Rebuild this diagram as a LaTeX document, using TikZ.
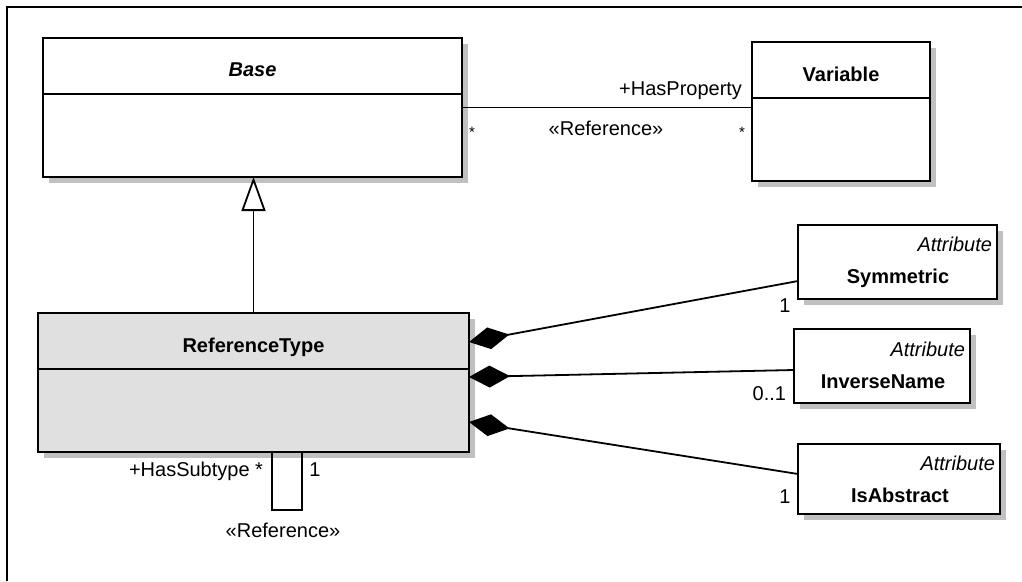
\documentclass[tikz,border=0pt]{standalone}
\usepackage{fontspec}
\setmainfont{Liberation Sans}
\usetikzlibrary{arrows.meta,calc,shadows}
\definecolor{shadowgray}{RGB}{192,192,192}
\definecolor{reffill}{RGB}{224,224,224}
\newcommand\dgfont{\fontsize{20}{24}\selectfont}
\newcommand\dgsmall{\fontsize{15}{18}\selectfont}
\begin{document}
\begin{tikzpicture}[x=1pt,y=-1pt,
  font=\dgfont,
  frame/.style={line width=1.3pt},
  box/.style={draw, line width=2pt, fill=white, inner sep=0pt, outer sep=0pt, anchor=north west,
    drop shadow={shadow xshift=6pt, shadow yshift=-6pt, fill=shadowgray, opacity=1, draw=none}},
  divider/.style={line width=2pt},
  txt/.style={inner sep=0pt, outer sep=0pt, anchor=base},
  title/.style={txt, font=\dgfont\bfseries},
  stereo/.style={inner sep=0pt, outer sep=0pt, anchor=base east, font=\dgfont\itshape},
  conn/.style={line width=1.8pt},
  comp/.style={conn, {Diamond[length=41pt,width=22pt]}-}
]
\useasboundingbox (0,0) rectangle (1022,581);
\draw[frame] (7,581) -- (7,7) -- (1022,7);

% class boxes
\node[box, minimum width=419pt, minimum height=139pt] (base) at (43,38) {};
\node[box, minimum width=178pt, minimum height=139pt] (variable) at (752,42) {};
\node[box, fill=reffill, minimum width=431pt, minimum height=139pt] (reftype) at (38,313) {};
\node[box, minimum width=199pt, minimum height=74pt] (symmetric) at (798,225) {};
\node[box, minimum width=176pt, minimum height=74pt] (inversename) at (794,329) {};
\node[box, minimum width=202pt, minimum height=70pt] (isabstract) at (798,444) {};

\foreach \n in {base,variable,reftype}
  \draw[divider] ($(\n.north west)+(0,56)$) -- ($(\n.north east)+(0,56)$);

% titles
\node[title, font=\dgfont\bfseries\itshape] (base-title) at (252.5,76) {Base};
\node[title] (variable-title) at (841,81) {Variable};
\node[title] (reftype-title) at (253.5,352) {ReferenceType};
\node[stereo] (symmetric-stereo) at (992,251) {Attribute};
\node[title] (symmetric-title) at (898,283) {Symmetric};
\node[stereo] (inversename-stereo) at (965,356) {Attribute};
\node[title] (inversename-title) at (883,388) {InverseName};
\node[stereo] (isabstract-stereo) at (995,470) {Attribute};
\node[title] (isabstract-title) at (900,502) {IsAbstract};

% association Base -- Variable
\draw[conn] (base.east) -- (base.east -| variable.west);
\node[txt, anchor=base east] (hasprop) at (742,95) {+HasProperty};
\node[txt] (assoc-ref) at (606,135) {«Reference»};
\node[txt, font=\dgsmall] (mult-base) at (472,137) {*};
\node[txt, font=\dgsmall] (mult-var) at (742,137) {*};

% generalization
\draw[conn, -{Triangle[open, length=34pt, width=24pt]}] (reftype.north) -- (reftype.north |- base.south);

% compositions
\draw[comp] ($(reftype.north east)+(0,29)$) -- ($(symmetric.north west)+(0,56)$);
\draw[comp] ($(reftype.north east)+(0,64)$) -- ($(inversename.north west)+(0,41)$);
\draw[comp] ($(reftype.north east)+(0,109)$) -- ($(isabstract.north west)+(0,30)$);
\node[txt] (mult-sym) at (785,312) {1};
\node[txt, anchor=base east] (mult-inv) at (786,400) {0..1};
\node[txt] (mult-abs) at (785,503) {1};

% self association
\coordinate (loopA) at ($(reftype.south)+(18.5,0)$);
\coordinate (loopB) at ($(reftype.south)+(48.5,0)$);
\draw[conn] (loopA) -- ++(0,58) -| (loopB);
\node[txt, anchor=base east] (hassub) at (263,476) {+HasSubtype *};
\node[txt] (mult-self) at (315,476) {1};
\node[txt] (self-ref) at (283,537) {«Reference»};
\end{tikzpicture}
\end{document}
